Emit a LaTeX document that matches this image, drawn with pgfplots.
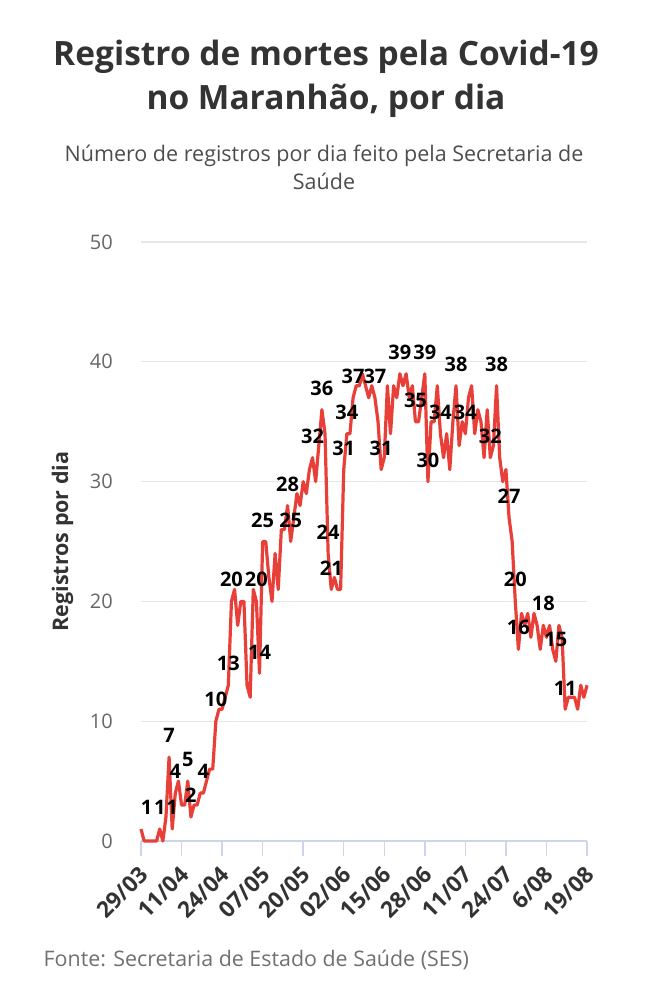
\documentclass[border=0pt]{standalone}
\usepackage{fontspec}
\setmainfont{Open Sans}
\usepackage{pgfplots}
\usepackage{pgfplotstable}
\pgfplotsset{compat=1.18}
\definecolor{linec}{RGB}{232,64,56}
\definecolor{titlec}{HTML}{333333}
\definecolor{subc}{HTML}{4D4D4D}
\definecolor{tickc}{HTML}{666666}
\definecolor{gridc}{HTML}{E6E6E6}
\definecolor{axisc}{HTML}{CCD6EB}
\definecolor{srcc}{HTML}{707070}

\pgfplotstableread{
d v
0 1
1 0
2 0
3 0
4 0
5 0
6 1
7 0
8 2
9 7
10 1
11 4
12 5
13 3
14 3
15 5
16 2
17 3
18 3
19 4
20 4
21 5
22 6
23 6
24 10
25 11
26 11
27 12
28 13
29 20
30 21
31 18
32 20
33 20
34 13
35 12
36 21
37 20
38 14
39 25
40 25
41 22
42 20
43 24
44 21
45 26
46 26
47 28
48 25
49 27
50 29
51 28
52 30
53 29
54 31
55 32
56 30
57 33
58 36
59 34
60 24
61 21
62 22
63 21
64 21
65 31
66 34
67 34
68 37
69 38
70 38
71 39
72 38
73 37
74 38
75 37
76 35
77 31
78 32
79 38
80 34
81 38
82 37
83 39
84 38
85 39
86 37
87 38
88 35
89 35
90 37
91 39
92 30
93 35
94 35
95 38
96 34
97 32
98 34
99 31
100 35
101 38
102 33
103 35
104 34
105 37
106 38
107 34
108 36
109 35
110 32
111 36
112 32
113 33
114 38
115 32
116 30
117 31
118 27
119 25
120 20
121 16
122 19
123 18
124 19
125 17
126 19
127 18
128 16
129 18
130 17
131 18
132 16
133 15
134 18
135 17
136 11
137 12
138 12
139 12
140 11
141 13
142 12
143 13
}\deaths

\pgfplotstableread{
d v lab
1.8 1 1
6 1 1
9 7 7
10 1 1
11 4 4
15 5 5
16 2 2
20 4 4
24 10 10
28 13 13
29 20 20
37 20 20
38 14 14
39 25 25
47 28 28
48 25 25
55 32 32
58 36 36
60 24 24
61 21 21
65 31 31
66 34 34
68 37 37
75 37 37
77 31 31
83 39 39
88 35 35
91 39 39
92 30 30
96 34 34
101 38 38
104 34 34
112 32 32
114 38 38
118 27 27
120 20 20
121 16 16
129 18 18
133 15 15
136 11 11
}\labels

\begin{document}
\begin{tikzpicture}[x=1bp,y=1bp]
\useasboundingbox (0,0) rectangle (649,1000);
\node[anchor=base, inner sep=0pt, font=\fontsize{33.5bp}{40bp}\selectfont\bfseries, text=titlec] at (326,934.3) {Registro de mortes pela Covid-19};
\node[anchor=base, inner sep=0pt, font=\fontsize{33.5bp}{40bp}\selectfont\bfseries, text=titlec] at (326,890) {no Maranhão, por dia};
\node[anchor=base, inner sep=0pt, font=\fontsize{21.5bp}{26bp}\selectfont, text=subc] at (324,838.3) {Número de registros por dia feito pela Secretaria de};
\node[anchor=base, inner sep=0pt, font=\fontsize{21.5bp}{26bp}\selectfont, text=subc] at (324,810) {Saúde};
\node[anchor=center, inner sep=0pt, rotate=90, font=\fontsize{21.5bp}{26bp}\selectfont\bfseries, text=titlec] at (62.5,458.5) {Registros por dia};
\node[anchor=base west, inner sep=0pt, font=\fontsize{21.4bp}{26bp}\selectfont, text=srcc] at (43.5,33.3) {Fonte: Secretaria de Estado de Saúde (SES)};
\begin{axis}[
  at={(141bp,159bp)}, anchor=south west,
  width=446bp, height=599bp, scale only axis,
  xmin=0, xmax=143, ymin=0, ymax=50,
  clip=false,
  /pgf/number format/assume math mode=true,
  axis x line*=bottom, axis y line*=left,
  y axis line style={draw=none},
  x axis line style={draw=axisc, line width=2bp},
  xtick={0,13,...,143},
  xticklabels={29/03,11/04,24/04,07/05,20/05,02/06,15/06,28/06,11/07,24/07,6/08,19/08},
  ytick={0,10,...,50},
  ymajorgrids,
  grid style={draw=gridc, line width=1.3bp},
  tick align=outside,
  major tick length=15bp,
  xtick style={draw=axisc, line width=1.5bp},
  ytick style={draw=none},
  yticklabel style={font=\fontsize{20bp}{24bp}\selectfont, text=tickc, anchor=east, inner sep=0pt, xshift=-13bp},
  xticklabel style={font=\fontsize{22.5bp}{27bp}\selectfont\bfseries, text=titlec, inner sep=0pt, xshift=3bp, yshift=-15bp, rotate=45, anchor=east},
]
\addplot[linec, line width=3.2bp, line join=round, mark=none] table[x=d, y=v] {\deaths};
\addplot[draw=none, mark=none, nodes near coords, point meta=explicit symbolic,
  nodes near coords style={font=\fontsize{20bp}{24bp}\selectfont\bfseries, text=black, anchor=south, inner sep=0pt, yshift=14bp}]
  table[x=d, y=v, meta=lab] {\labels};
\end{axis}
\end{tikzpicture}
\end{document}
